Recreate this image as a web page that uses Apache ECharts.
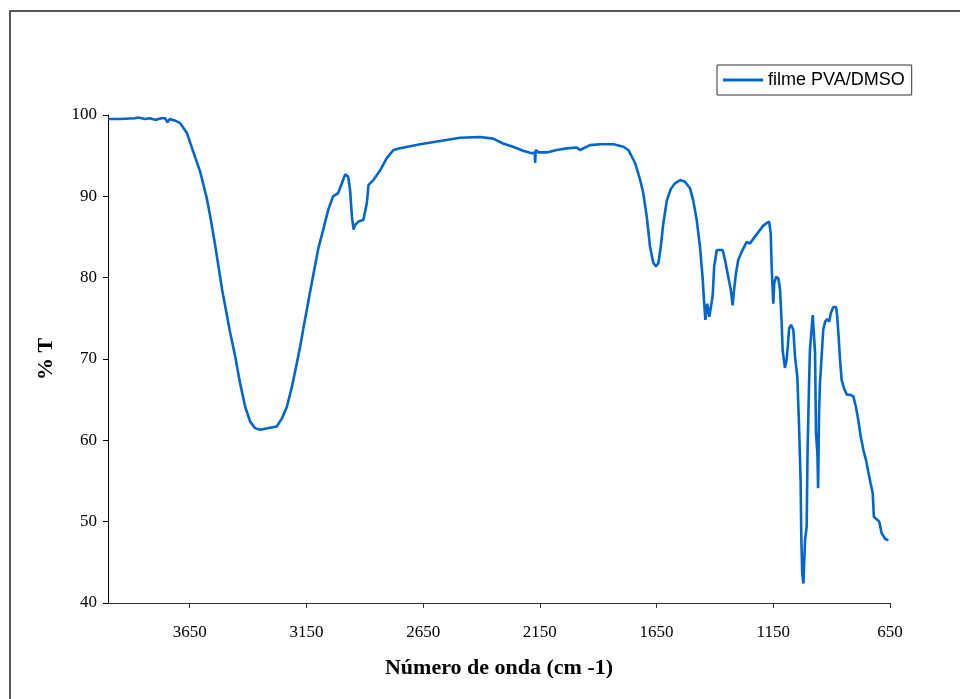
<!DOCTYPE html>
<html>
<head>
<meta charset="utf-8">
<script src="https://cdn.jsdelivr.net/npm/echarts@6/dist/echarts.min.js"></script>
<style>
  html, body { margin: 0; padding: 0; background: #fff; }
  #chart { width: 960px; height: 699px; }
</style>
</head>
<body>
<div id="chart"></div>
<script>
// FTIR spectrum of the PVA/DMSO film: wavenumber (cm-1) vs transmittance (%)
const seriesName = 'filme PVA/DMSO';

const wavenumber = [
  3999, 3948, 3884, 3870, 3841, 3820, 3798, 3770, 3755, 3745, 3735, 3712, 3691,
  3662, 3635, 3605, 3577, 3560, 3541, 3511, 3477, 3455, 3434, 3412, 3391, 3370,
  3348, 3306, 3277, 3255, 3234, 3212, 3191, 3177, 3164, 3134, 3099, 3078, 3057,
  3036, 3014, 2998, 2984, 2971, 2963, 2955, 2948, 2941, 2927, 2906, 2891, 2884,
  2863, 2834, 2806, 2777, 2749, 2663, 2577, 2492, 2406, 2350, 2308, 2265, 2222,
  2185, 2172, 2170, 2168, 2156, 2120, 2078, 2035, 1992, 1978, 1935, 1892, 1835,
  1792, 1771, 1764, 1742, 1721, 1707, 1692, 1678, 1664, 1652, 1642, 1632, 1621,
  1606, 1589, 1571, 1549, 1528, 1507, 1493, 1478, 1464, 1453, 1447, 1441, 1433,
  1424, 1417, 1410, 1403, 1392, 1378, 1367, 1357, 1343, 1332, 1324, 1318, 1310,
  1300, 1285, 1264, 1250, 1235, 1214, 1193, 1168, 1161, 1157, 1150, 1146, 1138,
  1128, 1121, 1114, 1110, 1100, 1093, 1088, 1082, 1074, 1064, 1057, 1047, 1040,
  1033, 1030, 1026, 1021, 1014, 1007, 1003, 997, 993, 985, 981, 975, 971, 967,
  961, 958, 954, 950, 943, 936, 928, 919, 910, 904, 893, 881, 876, 870, 864,
  857, 847, 835, 821, 807, 796, 786, 775, 764, 753, 743, 733, 724, 719, 707,
  696, 686, 671, 657
];

const transmittance = [
  99.5, 99.5, 99.6, 99.7, 99.5, 99.6, 99.4, 99.6, 99.6, 99.1, 99.5, 99.3, 99.0,
  97.8, 95.5, 93.0, 89.8, 87.2, 84.0, 78.5, 73.3, 70.3, 67.0, 64.1, 62.3, 61.5,
  61.3, 61.55, 61.7, 62.7, 64.1, 66.6, 69.5, 71.5, 73.6, 78.3, 83.6, 85.9, 88.3,
  90.0, 90.4, 91.6, 92.7, 92.4, 90.8, 87.5, 85.9, 86.5, 86.9, 87.1, 89.2, 91.4,
  92.0, 93.2, 94.7, 95.7, 95.9, 96.4, 96.8, 97.2, 97.3, 97.1, 96.5, 96.1, 95.6,
  95.3, 95.4, 94.1, 95.7, 95.4, 95.4, 95.7, 95.9, 96.0, 95.7, 96.3, 96.4, 96.4,
  96.1, 95.7, 95.5, 94.1, 92.1, 90.4, 87.5, 83.8, 81.8, 81.4, 81.8, 83.8, 86.7,
  89.5, 90.9, 91.6, 92.0, 91.8, 91.0, 89.5, 87.1, 83.8, 80.1, 77.3, 74.8, 76.8,
  75.2, 75.0, 77.7, 81.4, 83.4, 83.4, 83.4, 82.2, 80.1, 78.5, 76.6, 78.5, 80.5,
  82.2, 83.2, 84.4, 84.2, 84.8, 85.6, 86.4, 86.9, 85.5, 81.4, 76.8, 79.3, 80.1,
  79.9, 78.5, 74.4, 71.1, 68.9, 69.9, 71.5, 73.8, 74.2, 73.6, 70.3, 67.8, 62.1,
  55.1, 48.2, 43.6, 42.4, 47.7, 49.4, 58.8, 66.6, 71.1, 74.0, 75.4, 75.6, 70.7, 60.9,
  58.4, 54.1, 63.3, 67.0, 70.3, 73.6, 74.6, 74.9, 74.6, 75.6, 76.4, 76.4, 75.2, 72.7, 69.9,
  67.4, 66.4, 65.6, 65.6, 65.4, 64.1, 62.5, 60.4, 58.8, 57.6, 56.1, 54.7, 53.5, 50.6, 50.3,
  50.0, 48.6, 47.9, 47.7
];

const xTicks = [650, 1150, 1650, 2150, 2650, 3150, 3650];
const yTicks = [40, 50, 60, 70, 80, 90, 100];

const points = wavenumber.map((w, i) => [w, transmittance[i]]);

const serif = '"Liberation Serif", "Times New Roman", serif';
const sans = '"Liberation Sans", Arial, sans-serif';

const chart = echarts.init(document.getElementById('chart'), null, { renderer: 'canvas' });

chart.setOption({
  animation: false,
  backgroundColor: '#ffffff',
  graphic: [{
    type: 'rect',
    shape: { x: 10, y: 11, width: 1000, height: 1000 },
    style: { fill: 'none', stroke: '#222', lineWidth: 1.5 },
    silent: true
  }],
  grid: { left: 108, right: 70, top: 115, bottom: 96 },
  legend: {
    left: 717,
    top: 65,
    orient: 'vertical',
    padding: [6, 7, 6, 6],
    backgroundColor: '#fff',
    borderColor: '#333',
    borderWidth: 1,
    borderRadius: 0,
    icon: 'rect',
    itemWidth: 40,
    itemHeight: 3,
    textStyle: { fontFamily: sans, fontSize: 18, color: '#000' },
    data: [seriesName]
  },
  xAxis: {
    type: 'value',
    inverse: true,
    min: 650,
    max: 4000,
    interval: 500,
    name: 'Número de onda (cm -1)',
    nameLocation: 'middle',
    nameGap: 54,
    nameTextStyle: { fontFamily: serif, fontSize: 22, fontWeight: 'bold', color: '#000' },
    axisLine: { show: true, onZero: false, lineStyle: { color: '#333', width: 1 } },
    axisTick: { show: true, inside: false, length: 5, customValues: xTicks, lineStyle: { color: '#333' } },
    axisLabel: {
      customValues: xTicks, margin: 21, fontFamily: serif, fontSize: 17, color: '#000',
      formatter: v => String(v)
    },
    splitLine: { show: false }
  },
  yAxis: {
    type: 'value',
    min: 40,
    max: 100,
    interval: 10,
    name: '% T',
    nameLocation: 'middle',
    nameGap: 51,
    nameRotate: 90,
    nameTextStyle: { fontFamily: serif, fontSize: 22, fontWeight: 'bold', color: '#000' },
    axisLine: { show: true, lineStyle: { color: '#000', width: 1 } },
    axisTick: { show: true, inside: false, length: 5, customValues: yTicks, lineStyle: { color: '#000' } },
    axisLabel: {
      customValues: yTicks, margin: 11, fontFamily: serif, fontSize: 17, color: '#000',
      formatter: v => String(v)
    },
    splitLine: { show: false }
  },
  series: [{
    name: seriesName,
    type: 'line',
    data: points,
    symbol: 'none',
    smooth: false,
    color: '#0066cc',
    lineStyle: { color: '#0066cc', width: 2.6 }
  }]
});
</script>
</body>
</html>
